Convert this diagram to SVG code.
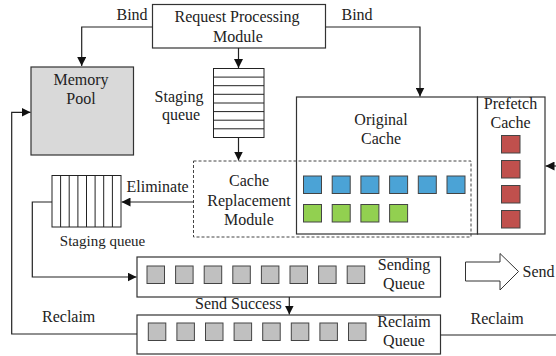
<svg xmlns="http://www.w3.org/2000/svg" width="556" height="356" viewBox="0 0 556 356">
  <defs>
    <style>
      .box { fill: #ffffff; stroke: #333333; stroke-width: 1.2; }
      .pool { fill: #d9d9d9; stroke: #333333; stroke-width: 1.2; }
      .dash { fill: none; stroke: #444444; stroke-width: 1; stroke-dasharray: 3 2; }
      .cell { fill: none; stroke: #222222; stroke-width: 1; }
      .gray { fill: #c0c0c0; stroke: #444444; stroke-width: 1; }
      .blue { fill: #4ba3d6; stroke: #444444; stroke-width: 1; }
      .green { fill: #92d050; stroke: #444444; stroke-width: 1; }
      .red { fill: #c0504d; stroke: #444444; stroke-width: 1; }
      .wire { fill: none; stroke: #222222; stroke-width: 1.2; }
      .lbl { font-family: "Liberation Serif", "Times New Roman", serif; font-size: 16px; fill: #222222; }
      .mid { text-anchor: middle; }
    </style>
    <marker id="arrow" viewBox="0 0 10 10" refX="10" refY="5" markerWidth="9" markerHeight="9" markerUnits="userSpaceOnUse" orient="auto">
      <path d="M0,0 L10,5 L0,10 z" fill="#111111"/>
    </marker>
  </defs>

  <!-- Request processing module -->
  <g id="request-module">
    <rect class="box" x="152.5" y="4.5" width="173" height="43.5"/>
    <text class="lbl mid" x="237" y="22">Request Processing</text>
    <text class="lbl mid" x="238" y="42">Module</text>
  </g>

  <!-- Memory pool -->
  <g id="memory-pool">
    <rect class="pool" x="31" y="67" width="102.5" height="88"/>
    <text class="lbl mid" x="81" y="85">Memory</text>
    <text class="lbl mid" x="81" y="104">Pool</text>
  </g>

  <!-- Vertical staging queue -->
  <g id="staging-queue-top">
    <rect class="cell" x="213.5" y="68.5" width="50.5" height="69"/>
    <path class="cell" d="M213.5,77.1 H264 M213.5,85.7 H264 M213.5,94.3 H264 M213.5,103 H264 M213.5,111.6 H264 M213.5,120.2 H264 M213.5,128.8 H264"/>
    <text class="lbl mid" x="179" y="101.5">Staging</text>
    <text class="lbl mid" x="181" y="120">queue</text>
  </g>

  <!-- Original cache -->
  <g id="original-cache">
    <rect class="box" x="296.5" y="97" width="181" height="137"/>
    <text class="lbl mid" x="381" y="125">Original</text>
    <text class="lbl mid" x="381" y="144">Cache</text>
    <rect class="blue" x="303.5" y="176" width="18" height="17.5"/>
    <rect class="blue" x="332.2" y="176" width="18" height="17.5"/>
    <rect class="blue" x="360.9" y="176" width="18" height="17.5"/>
    <rect class="blue" x="389.6" y="176" width="18" height="17.5"/>
    <rect class="blue" x="418.3" y="176" width="18" height="17.5"/>
    <rect class="blue" x="447" y="176" width="18" height="17.5"/>
    <rect class="green" x="303.5" y="204.5" width="18" height="17.5"/>
    <rect class="green" x="332.2" y="204.5" width="18" height="17.5"/>
    <rect class="green" x="360.9" y="204.5" width="18" height="17.5"/>
    <rect class="green" x="389.6" y="204.5" width="18" height="17.5"/>
  </g>

  <!-- Prefetch cache -->
  <g id="prefetch-cache">
    <rect class="box" x="477.5" y="97" width="67.5" height="137"/>
    <text class="lbl mid" x="510.5" y="109">Prefetch</text>
    <text class="lbl mid" x="510.5" y="128">Cache</text>
    <rect class="red" x="501.5" y="135.5" width="18.5" height="17.5"/>
    <rect class="red" x="501.5" y="160.5" width="18.5" height="17.5"/>
    <rect class="red" x="501.5" y="185.5" width="18.5" height="17.5"/>
    <rect class="red" x="501.5" y="210.5" width="18.5" height="17.5"/>
  </g>

  <!-- Cache replacement module (dashed region over the cache) -->
  <g id="cache-replacement">
    <rect class="dash" x="193.5" y="161" width="277.5" height="76"/>
    <text class="lbl mid" x="249" y="186">Cache</text>
    <text class="lbl mid" x="249" y="205.5">Replacement</text>
    <text class="lbl mid" x="249" y="225">Module</text>
  </g>

  <!-- Horizontal staging queue -->
  <g id="staging-queue-left">
    <rect class="cell" x="52" y="175.5" width="69" height="51.5"/>
    <path class="cell" d="M60.6,175.5 V227 M69.2,175.5 V227 M77.9,175.5 V227 M86.5,175.5 V227 M95.1,175.5 V227 M103.7,175.5 V227 M112.4,175.5 V227"/>
    <text class="lbl mid" x="102.5" y="246" style="font-size:15px">Staging queue</text>
  </g>

  <!-- Sending queue -->
  <g id="sending-queue">
    <rect class="box" x="137" y="257" width="303.5" height="40"/>
    <rect class="gray" x="147" y="266" width="17.5" height="17.5"/>
    <rect class="gray" x="175.6" y="266" width="17.5" height="17.5"/>
    <rect class="gray" x="204.2" y="266" width="17.5" height="17.5"/>
    <rect class="gray" x="232.8" y="266" width="17.5" height="17.5"/>
    <rect class="gray" x="261.4" y="266" width="17.5" height="17.5"/>
    <rect class="gray" x="290" y="266" width="17.5" height="17.5"/>
    <rect class="gray" x="318.6" y="266" width="17.5" height="17.5"/>
    <rect class="gray" x="347.2" y="266" width="17.5" height="17.5"/>
    <text class="lbl mid" x="404" y="270">Sending</text>
    <text class="lbl mid" x="404" y="288.5">Queue</text>
  </g>

  <!-- Reclaim queue -->
  <g id="reclaim-queue">
    <rect class="box" x="137" y="315" width="303.5" height="39"/>
    <rect class="gray" x="148.3" y="323" width="17.5" height="17.5"/>
    <rect class="gray" x="176.9" y="323" width="17.5" height="17.5"/>
    <rect class="gray" x="205.5" y="323" width="17.5" height="17.5"/>
    <rect class="gray" x="234.1" y="323" width="17.5" height="17.5"/>
    <rect class="gray" x="262.7" y="323" width="17.5" height="17.5"/>
    <rect class="gray" x="291.3" y="323" width="17.5" height="17.5"/>
    <rect class="gray" x="319.9" y="323" width="17.5" height="17.5"/>
    <rect class="gray" x="348.5" y="323" width="17.5" height="17.5"/>
    <text class="lbl mid" x="404" y="327">Reclaim</text>
    <text class="lbl mid" x="404" y="345.5">Queue</text>
  </g>

  <!-- Outgoing send block arrow -->
  <g id="send">
    <path d="M465.5,262 H500 V253.5 L518.5,271.5 L500,290 V281 H465.5 Z" fill="#ffffff" stroke="#333333" stroke-width="1"/>
    <text class="lbl" x="522.5" y="277">Send</text>
  </g>

  <!-- Connectors -->
  <g id="connectors">
    <path class="wire" d="M152.5,27 H81.7 V66" marker-end="url(#arrow)"/>
    <path class="wire" d="M325.5,27 H420 V96.5" marker-end="url(#arrow)"/>
    <path class="wire" d="M238.5,48 V68" marker-end="url(#arrow)"/>
    <path class="wire" d="M238.5,137.5 V160.5" marker-end="url(#arrow)"/>
    <path class="wire" d="M193.5,202 H121.5" marker-end="url(#arrow)"/>
    <path class="wire" d="M52,202 H32.3 V277 H136.5" marker-end="url(#arrow)"/>
    <path class="wire" d="M289.3,297 V314.5" marker-end="url(#arrow)"/>
    <path class="wire" d="M137,334 H11.7 V112.3 H30.5" marker-end="url(#arrow)"/>
    <path class="wire" d="M440.5,335 H556"/>
    <path class="wire" d="M556,166 H545.5" marker-end="url(#arrow)"/>
    <text class="lbl" x="116.5" y="20">Bind</text>
    <text class="lbl" x="341.5" y="20">Bind</text>
    <text class="lbl" x="126.5" y="191.5">Eliminate</text>
    <text class="lbl" x="195" y="309">Send Success</text>
    <text class="lbl" x="42" y="322">Reclaim</text>
    <text class="lbl" x="470.5" y="323.5">Reclaim</text>
  </g>
</svg>
